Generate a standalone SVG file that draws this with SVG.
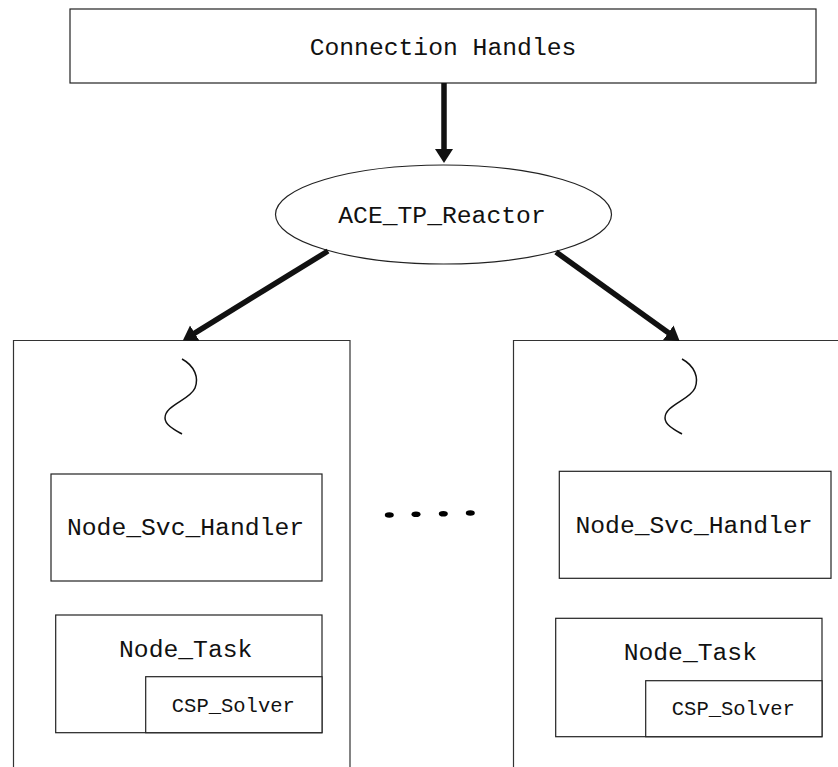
<svg xmlns="http://www.w3.org/2000/svg" width="838" height="767" viewBox="0 0 838 767">
  <style>
    .box { fill: #fff; stroke: #222; stroke-width: 1.2; }
    .frame { fill: none; stroke: #333; stroke-width: 1.2; }
    .lbl { font-family: "Liberation Mono", "Courier New", monospace; font-size: 24.7px; fill: #111; text-anchor: middle; }
    .small { font-size: 20.5px; }
    .conn { stroke: #111; stroke-width: 5.5; fill: none; }
    .wave { fill: none; stroke: #111; stroke-width: 1.5; }
  </style>
  <defs>
    <marker id="ah" markerUnits="userSpaceOnUse" markerWidth="16" markerHeight="20" refX="1" refY="9" orient="auto">
      <path d="M0,0 L14,9 L0,18 z" fill="#111"/>
    </marker>
  </defs>

  <rect width="838" height="767" fill="#fff"/>

  <g id="connection-handles">
    <rect class="box" x="70" y="9" width="746" height="74"/>
    <text class="lbl" x="443" y="55">Connection Handles</text>
  </g>

  <g id="reactor">
    <ellipse class="box" cx="443.5" cy="214.5" rx="168" ry="49.5" stroke-width="1"/>
    <text class="lbl" x="442" y="223">ACE_TP_Reactor</text>
  </g>

  <g id="thread-left">
    <path class="frame" d="M13.5,767 V340.5 H350 V767"/>
    <path class="wave" d="M182,359 C195,366 199,378 195,388 C190,400 165,405 165,418 C165,425 175,430 182,434"/>
  </g>

  <g id="svc-handler-left">
    <rect class="box" x="51" y="474" width="271" height="107"/>
    <text class="lbl" x="185.5" y="535">Node_Svc_Handler</text>
  </g>

  <g id="task-left">
    <rect class="box" x="55.7" y="615" width="266.3" height="117.7"/>
    <text class="lbl" x="185.7" y="657">Node_Task</text>
  </g>

  <g id="solver-left">
    <rect class="box" x="145.7" y="676.7" width="176.3" height="56"/>
    <text class="lbl small" x="233.3" y="712">CSP_Solver</text>
  </g>

  <g id="thread-right">
    <path class="frame" d="M513.5,767 V340.5 H838"/>
    <path class="wave" d="M682,359 C695,366 699,378 695,388 C690,400 665,405 665,418 C665,425 675,430 682,434"/>
  </g>

  <g id="svc-handler-right">
    <rect class="box" x="559.3" y="471.3" width="271.7" height="107"/>
    <text class="lbl" x="694" y="533">Node_Svc_Handler</text>
  </g>

  <g id="task-right">
    <rect class="box" x="555.7" y="618.3" width="266.3" height="118.4"/>
    <text class="lbl" x="690.3" y="660">Node_Task</text>
  </g>

  <g id="solver-right">
    <rect class="box" x="645.7" y="680.7" width="176.3" height="56"/>
    <text class="lbl small" x="733.3" y="715">CSP_Solver</text>
  </g>

  <g id="ellipsis">
    <ellipse cx="389.3" cy="515" rx="4.5" ry="2.8" fill="#000"/>
    <ellipse cx="416" cy="514.3" rx="4.5" ry="2.8" fill="#000"/>
    <ellipse cx="443.3" cy="513.7" rx="4.5" ry="2.8" fill="#000"/>
    <ellipse cx="470.3" cy="513" rx="4.5" ry="2.8" fill="#000"/>
  </g>

  <g id="connectors">
    <line class="conn" x1="444" y1="83" x2="444" y2="150" marker-end="url(#ah)"/>
    <line class="conn" x1="328" y1="251" x2="193.9" y2="333.6" marker-end="url(#ah)"/>
    <line class="conn" x1="556" y1="252" x2="669.1" y2="333.3" marker-end="url(#ah)"/>
  </g>
</svg>
